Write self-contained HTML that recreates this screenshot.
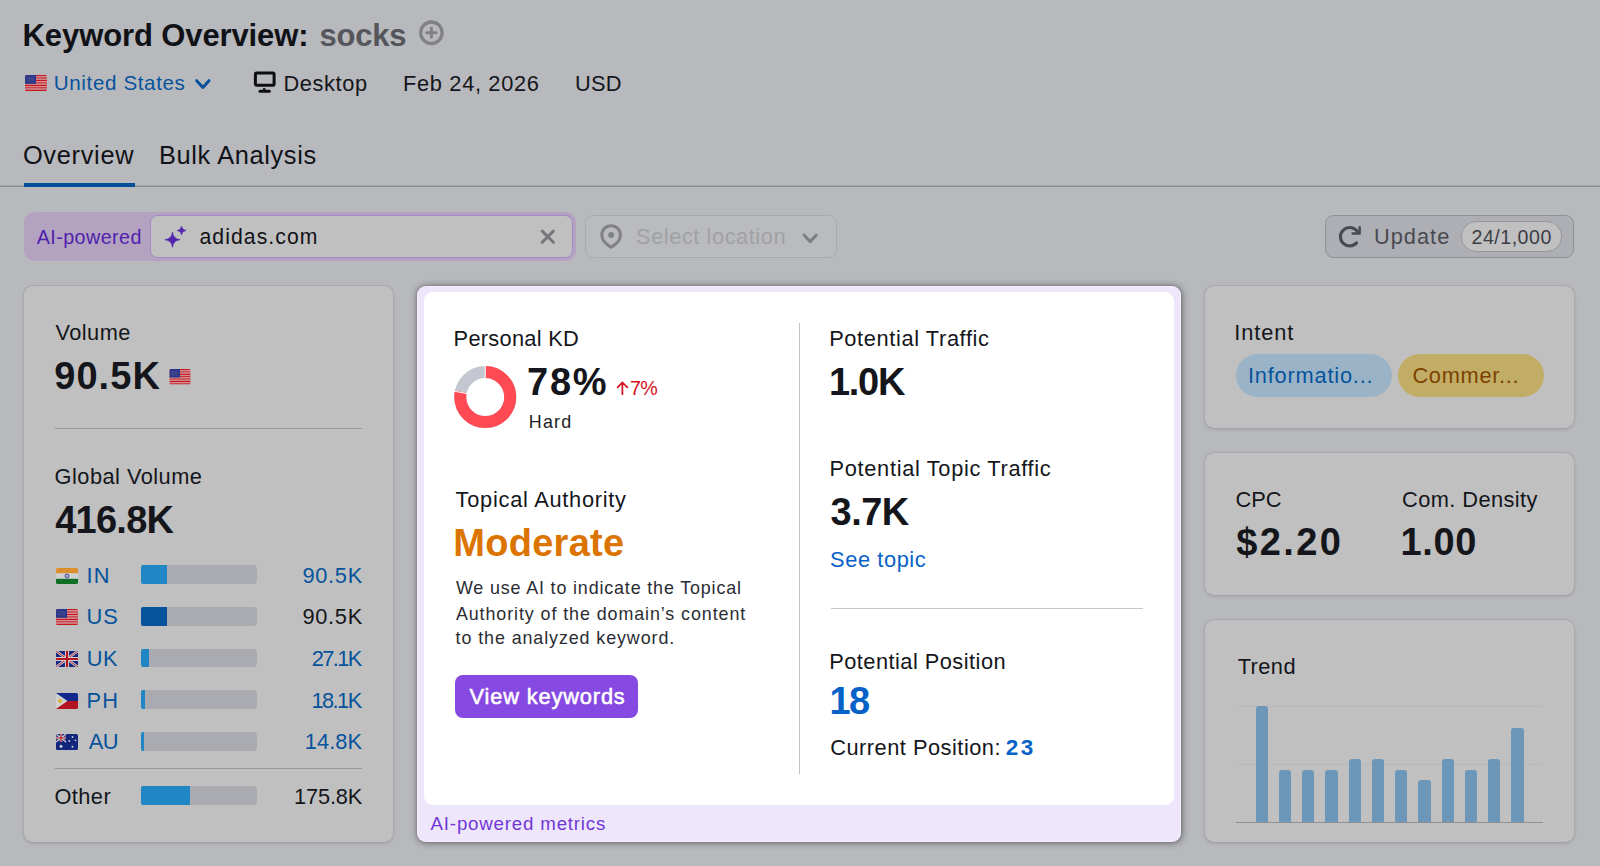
<!DOCTYPE html>
<html lang="en"><head><meta charset="utf-8"><title>Keyword Overview: socks</title>
<style>
html,body{margin:0;padding:0}
body{width:1600px;height:866px;position:relative;overflow:hidden;background:#b8b9bd;font-family:'Liberation Sans',sans-serif}
.t{position:absolute;white-space:pre;line-height:1;font-family:'Liberation Sans',sans-serif}
.a{position:absolute;box-sizing:border-box}
.card{position:absolute;box-sizing:border-box;background:#c0c0c0;border:1px solid #a9a9af;border-bottom-color:#a2a3a8;border-radius:10px;box-shadow:0 1px 3px rgba(0,0,0,.10)}
svg{position:absolute;overflow:visible}
</style></head><body>
<svg style="left:0px;top:0px" width="1" height="1" viewBox="0 0 1 1" ><circle cx="431.400" cy="32.750" r="10.750" fill="none" stroke="#808186" stroke-width="3.300"/><path d="M431.400 28.100v9.300M426.700 32.750h9.400" stroke="#808186" stroke-width="2.900" stroke-linecap="round" fill="none"/></svg>
<svg style="left:25px;top:75px" width="22" height="16" viewBox="0 0 22 16" ><clipPath id="c2575"><rect width="22" height="16" rx="1.6"/></clipPath><g clip-path="url(#c2575)"><rect x="0" y="0.000" width="22" height="1.231" fill="#c8161f"/><rect x="0" y="1.231" width="22" height="1.231" fill="#d88b8f"/><rect x="0" y="2.462" width="22" height="1.231" fill="#c8161f"/><rect x="0" y="3.692" width="22" height="1.231" fill="#d88b8f"/><rect x="0" y="4.923" width="22" height="1.231" fill="#c8161f"/><rect x="0" y="6.154" width="22" height="1.231" fill="#d88b8f"/><rect x="0" y="7.385" width="22" height="1.231" fill="#c8161f"/><rect x="0" y="8.615" width="22" height="1.231" fill="#d88b8f"/><rect x="0" y="9.846" width="22" height="1.231" fill="#c8161f"/><rect x="0" y="11.077" width="22" height="1.231" fill="#d88b8f"/><rect x="0" y="12.308" width="22" height="1.231" fill="#c8161f"/><rect x="0" y="13.538" width="22" height="1.231" fill="#d88b8f"/><rect x="0" y="14.769" width="22" height="1.231" fill="#c8161f"/><rect width="11" height="8.8" fill="#2a378c"/><rect x="1.6" y="2" width="7.6" height="4.8" fill="#3a4389"/></g></svg>
<svg style="left:0px;top:0px" width="1" height="1" viewBox="0 0 1 1" ><path d="M196.700 80.700 202.850 87.400 209 80.700" fill="none" stroke="#034f99" stroke-width="3" stroke-linecap="round" stroke-linejoin="round"/></svg>
<svg style="left:0px;top:0px" width="1" height="1" viewBox="0 0 1 1" ><rect x="255.400" y="72.900" width="18.700" height="12.300" rx="1.2" fill="none" stroke="#0d0e12" stroke-width="3"/><rect x="263" y="88.200" width="2.500" height="2.500" fill="#0d0e12"/><rect x="258.500" y="89.700" width="12.300" height="3" rx="1.500" fill="#0d0e12"/></svg>
<div class="a" style="left:0px;top:185px;width:1600px;height:1px;background:#a6a7ab"></div>
<div class="a" style="left:0px;top:186px;width:1600px;height:1px;background:#8e8f94"></div>
<div class="a" style="left:23.5px;top:182.5px;width:111.5px;height:4.5px;background:#034f99"></div>
<div class="a" style="left:23.5px;top:212px;width:552.1px;height:49.2px;background:#b3a3c0;border-radius:11px 10px 10px 11px"></div>
<div class="a" style="left:149.75px;top:215px;width:422.75px;height:43.2px;background:#c0c0c1;border:1.5px solid #a387c9;border-radius:7.5px"></div>
<svg style="left:0px;top:0px" width="1" height="1" viewBox="0 0 1 1" ><path d="M172.5 232.1 Q173.108 239.09199999999998 180.1 239.7 Q173.108 240.308 172.5 247.29999999999998 Q171.892 240.308 164.9 239.7 Q171.892 239.09199999999998 172.5 232.1ZM181.6 226.1 Q181.952 230.148 186.0 230.5 Q181.952 230.852 181.6 234.9 Q181.248 230.852 177.2 230.5 Q181.248 230.148 181.6 226.1Z" fill="#5525ae" stroke="#5525ae" stroke-width="0.7" stroke-linejoin="round"/></svg>
<svg style="left:0px;top:0px" width="1" height="1" viewBox="0 0 1 1" ><path d="M542.200 231.100 553.400 242.300M553.400 231.100 542.200 242.300" stroke="#76777c" stroke-width="3" stroke-linecap="round" fill="none"/></svg>
<div class="a" style="left:585px;top:215px;width:251.5px;height:43.2px;background:#babbbe;border:1px solid #a8a9ae;border-radius:8.5px"></div>
<svg style="left:0px;top:0px" width="1" height="1" viewBox="0 0 1 1" ><path d="M611.100 225.700c-5.200 0-9.300 4.100-9.300 9.200 0 6.200 7 11 9.300 12.300 2.300-1.300 9.300-6.100 9.300-12.300 0-5.100-4.100-9.200-9.300-9.200Z" fill="none" stroke="#808186" stroke-width="3" stroke-linejoin="round"/><circle cx="611.100" cy="235" r="3" fill="#808186"/></svg>
<svg style="left:0px;top:0px" width="1" height="1" viewBox="0 0 1 1" ><path d="M804.200 235.200 810.200 241.600 816.200 235.200" fill="none" stroke="#7d7e83" stroke-width="3" stroke-linecap="round" stroke-linejoin="round"/></svg>
<div class="a" style="left:1325px;top:215px;width:249px;height:43.2px;background:#aeafb4;border:1px solid #8f9095;border-radius:8.5px"></div>
<div class="a" style="left:1461px;top:221px;width:101px;height:31px;background:#c0c0c1;border:1px solid #96979c;border-radius:15px"></div>
<svg style="left:0px;top:0px" width="1" height="1" viewBox="0 0 1 1" ><path d="M1356.570 242.890A9.250 9.250 0 1 1 1356.570 230.510" fill="none" stroke="#494a51" stroke-width="3.1" stroke-linecap="round"/><path d="M1359.700 227.100V233.500H1352.600" fill="none" stroke="#494a51" stroke-width="2.4" stroke-linecap="round" stroke-linejoin="round"/><path d="M1359.700 233.500H1355.200L1359.700 229.200Z" fill="#494a51"/></svg>
<div class="card" style="left:23px;top:285px;width:371px;height:558px"></div>
<svg style="left:169.4px;top:369px" width="22" height="15.5" viewBox="0 0 22 16" ><clipPath id="c169369"><rect width="22" height="16" rx="1.6"/></clipPath><g clip-path="url(#c169369)"><rect x="0" y="0.000" width="22" height="1.231" fill="#c8161f"/><rect x="0" y="1.231" width="22" height="1.231" fill="#d88b8f"/><rect x="0" y="2.462" width="22" height="1.231" fill="#c8161f"/><rect x="0" y="3.692" width="22" height="1.231" fill="#d88b8f"/><rect x="0" y="4.923" width="22" height="1.231" fill="#c8161f"/><rect x="0" y="6.154" width="22" height="1.231" fill="#d88b8f"/><rect x="0" y="7.385" width="22" height="1.231" fill="#c8161f"/><rect x="0" y="8.615" width="22" height="1.231" fill="#d88b8f"/><rect x="0" y="9.846" width="22" height="1.231" fill="#c8161f"/><rect x="0" y="11.077" width="22" height="1.231" fill="#d88b8f"/><rect x="0" y="12.308" width="22" height="1.231" fill="#c8161f"/><rect x="0" y="13.538" width="22" height="1.231" fill="#d88b8f"/><rect x="0" y="14.769" width="22" height="1.231" fill="#c8161f"/><rect width="11" height="8.8" fill="#2a378c"/><rect x="1.6" y="2" width="7.6" height="4.8" fill="#3a4389"/></g></svg>
<div class="a" style="left:54.6px;top:428.2px;width:307.2px;height:1.1px;background:#97989e"></div>
<div class="a" style="left:54.8px;top:767.5px;width:306.9px;height:1.1px;background:#97989e"></div>
<svg style="left:55.9px;top:567.6px" width="22" height="16" viewBox="0 0 22 16" ><clipPath id="c55_567"><rect width="22" height="16" rx="1.6"/></clipPath><g clip-path="url(#c55_567)"><rect width="22" height="16" fill="#d0d0d2"/><rect width="22" height="5.2" fill="#dd8f2e"/><rect y="10.8" width="22" height="5.2" fill="#0f6f27"/><circle cx="11" cy="8" r="2" fill="none" stroke="#283a8c" stroke-width="0.9"/><circle cx="11" cy="8" r="0.6" fill="#283a8c"/></g></svg>
<div class="a" style="left:141px;top:565.2px;width:115.8px;height:18.9px;background:#aaabb1;border-radius:2px 4px 4px 2px"></div>
<div class="a" style="left:141px;top:565.2px;width:25.6px;height:18.9px;background:#2087c4;border-radius:2px 0 0 2px"></div>
<svg style="left:55.9px;top:609.25px" width="22" height="16" viewBox="0 0 22 16" ><clipPath id="c55_609"><rect width="22" height="16" rx="1.6"/></clipPath><g clip-path="url(#c55_609)"><rect x="0" y="0.000" width="22" height="1.231" fill="#c8161f"/><rect x="0" y="1.231" width="22" height="1.231" fill="#d88b8f"/><rect x="0" y="2.462" width="22" height="1.231" fill="#c8161f"/><rect x="0" y="3.692" width="22" height="1.231" fill="#d88b8f"/><rect x="0" y="4.923" width="22" height="1.231" fill="#c8161f"/><rect x="0" y="6.154" width="22" height="1.231" fill="#d88b8f"/><rect x="0" y="7.385" width="22" height="1.231" fill="#c8161f"/><rect x="0" y="8.615" width="22" height="1.231" fill="#d88b8f"/><rect x="0" y="9.846" width="22" height="1.231" fill="#c8161f"/><rect x="0" y="11.077" width="22" height="1.231" fill="#d88b8f"/><rect x="0" y="12.308" width="22" height="1.231" fill="#c8161f"/><rect x="0" y="13.538" width="22" height="1.231" fill="#d88b8f"/><rect x="0" y="14.769" width="22" height="1.231" fill="#c8161f"/><rect width="11" height="8.8" fill="#2a378c"/><rect x="1.6" y="2" width="7.6" height="4.8" fill="#3a4389"/></g></svg>
<div class="a" style="left:141px;top:606.85px;width:115.8px;height:18.9px;background:#aaabb1;border-radius:2px 4px 4px 2px"></div>
<div class="a" style="left:141px;top:606.85px;width:25.6px;height:18.9px;background:#05539b;border-radius:2px 0 0 2px"></div>
<svg style="left:55.9px;top:650.9px" width="22" height="16" viewBox="0 0 22 16" ><clipPath id="c55_650"><rect width="22" height="16" rx="1.6"/></clipPath><g clip-path="url(#c55_650)"><rect width="22" height="16" fill="#13277f"/><path d="M0 0 22 16M22 0 0 16" stroke="#d0d0d2" stroke-width="2.6"/><path d="M0 0 22 16M22 0 0 16" stroke="#b5151f" stroke-width="0.9"/><path d="M11 0v16M0 8h22" stroke="#d0d0d2" stroke-width="4.2"/><path d="M11 0v16M0 8h22" stroke="#b5151f" stroke-width="2.2"/></g></svg>
<div class="a" style="left:141px;top:648.5px;width:115.8px;height:18.9px;background:#aaabb1;border-radius:2px 4px 4px 2px"></div>
<div class="a" style="left:141px;top:648.5px;width:8px;height:18.9px;background:#2087c4;border-radius:2px 0 0 2px"></div>
<svg style="left:55.9px;top:692.55px" width="22" height="16" viewBox="0 0 22 16" ><clipPath id="c55_692"><rect width="22" height="16" rx="1.6"/></clipPath><g clip-path="url(#c55_692)"><rect width="22" height="8" fill="#11298c"/><rect y="8" width="22" height="8" fill="#b3141f"/><path d="M0 0 11.500 8 0 16Z" fill="#d0d0d2"/><circle cx="4" cy="8" r="2" fill="#d9b32f"/></g></svg>
<div class="a" style="left:141px;top:690.15px;width:115.8px;height:18.9px;background:#aaabb1;border-radius:2px 4px 4px 2px"></div>
<div class="a" style="left:141px;top:690.15px;width:4px;height:18.9px;background:#2087c4;border-radius:2px 0 0 2px"></div>
<svg style="left:55.9px;top:734.2px" width="22" height="16" viewBox="0 0 22 16" ><clipPath id="c55_734"><rect width="22" height="16" rx="1.6"/></clipPath><g clip-path="url(#c55_734)"><rect width="22" height="16" fill="#12267e"/><path d="M0 0 10 8M10 0 0 8" stroke="#d0d0d2" stroke-width="1.3"/><path d="M5 0v8M0 4h10" stroke="#d0d0d2" stroke-width="2.4"/><path d="M5 0v8M0 4h10" stroke="#b5151f" stroke-width="1.2"/><circle cx="5" cy="12.3" r="1.5" fill="#d0d0d2"/><circle cx="16.500" cy="3" r="0.9" fill="#d0d0d2"/><circle cx="13.300" cy="7" r="0.9" fill="#d0d0d2"/><circle cx="19.500" cy="6.300" r="0.9" fill="#d0d0d2"/><circle cx="16.500" cy="12.800" r="1" fill="#d0d0d2"/></g></svg>
<div class="a" style="left:141px;top:731.8px;width:115.8px;height:18.9px;background:#aaabb1;border-radius:2px 4px 4px 2px"></div>
<div class="a" style="left:141px;top:731.8px;width:3.2px;height:18.9px;background:#2087c4;border-radius:2px 0 0 2px"></div>
<div class="a" style="left:141px;top:786.3px;width:115.8px;height:18.9px;background:#aaabb1;border-radius:2px 4px 4px 2px"></div>
<div class="a" style="left:141px;top:786.3px;width:49.4px;height:18.9px;background:#2087c4;border-radius:2px 0 0 2px"></div>
<div class="a" style="left:417px;top:286px;width:764px;height:556px;background:#eee7fb;border-radius:9px;box-shadow:0 0 1.5px rgba(0,0,0,.30),.5px .5px 7px rgba(0,0,0,.44),inset 0 0 0 1px rgba(255,245,255,.55)"></div>
<div class="a" style="left:423.75px;top:292px;width:750.5px;height:512.6px;background:#fff;border-radius:9px"></div>
<svg style="left:0px;top:0px" width="1" height="1" viewBox="0 0 1 1" ><circle cx="485.25" cy="397.1" r="25" fill="none" stroke="#c4c7cf" stroke-width="12"/><circle cx="485.25" cy="397.1" r="25" fill="none" stroke="#ff4953" stroke-width="12" stroke-dasharray="122.52 157.08" transform="rotate(-90 485.25 397.1)"/><path d="M485.250 365.500V378.800M467.08 393.63L454.31 391.20" stroke="#fff" stroke-width="1" fill="none"/></svg>
<svg style="left:0px;top:0px" width="1" height="1" viewBox="0 0 1 1" role="img" aria-label="up"><path d="M622.400 394.900V382.600M617.100 387.800 622.400 382.400 627.800 387.800" fill="none" stroke="#d4101f" stroke-width="1.7"/></svg>
<div class="a" style="left:798.8px;top:323px;width:1.1px;height:450.6px;background:#c0c3cc"></div>
<div class="a" style="left:831.25px;top:607.5px;width:312.0px;height:1.1px;background:#c4c7cf"></div>
<div class="a" style="left:454.5px;top:675px;width:183.5px;height:43.3px;background:#8649e1;border-radius:8px"></div>
<div class="card" style="left:1204px;top:285px;width:371px;height:144px"></div>
<div class="card" style="left:1204px;top:452px;width:371px;height:144px"></div>
<div class="card" style="left:1204px;top:619px;width:371px;height:224px"></div>
<div class="a" style="left:1236.1px;top:354px;width:155.9px;height:42.7px;background:#9bb3c7;border-radius:22px"></div>
<div class="a" style="left:1398px;top:354px;width:145.7px;height:42.7px;background:#c1ad66;border-radius:22px"></div>
<div class="a" style="left:1235.8px;top:706px;width:307.4px;height:1px;background:#b6b7bb"></div>
<div class="a" style="left:1235.8px;top:764px;width:307.4px;height:1px;background:#b6b7bb"></div>
<div class="a" style="left:1255.6px;top:706px;width:12.4px;height:116px;background:#6d97b8;border-radius:3px 3px 0 0"></div>
<div class="a" style="left:1278.85px;top:769.6px;width:12.4px;height:52.4px;background:#6d97b8;border-radius:3px 3px 0 0"></div>
<div class="a" style="left:1302.1px;top:769.6px;width:12.4px;height:52.4px;background:#6d97b8;border-radius:3px 3px 0 0"></div>
<div class="a" style="left:1325.35px;top:769.6px;width:12.4px;height:52.4px;background:#6d97b8;border-radius:3px 3px 0 0"></div>
<div class="a" style="left:1348.6px;top:759.3px;width:12.4px;height:62.7px;background:#6d97b8;border-radius:3px 3px 0 0"></div>
<div class="a" style="left:1371.85px;top:759.3px;width:12.4px;height:62.7px;background:#6d97b8;border-radius:3px 3px 0 0"></div>
<div class="a" style="left:1395.1px;top:769.6px;width:12.4px;height:52.4px;background:#6d97b8;border-radius:3px 3px 0 0"></div>
<div class="a" style="left:1418.35px;top:780.3px;width:12.4px;height:41.7px;background:#6d97b8;border-radius:3px 3px 0 0"></div>
<div class="a" style="left:1441.6px;top:759.3px;width:12.4px;height:62.7px;background:#6d97b8;border-radius:3px 3px 0 0"></div>
<div class="a" style="left:1464.85px;top:769.6px;width:12.4px;height:52.4px;background:#6d97b8;border-radius:3px 3px 0 0"></div>
<div class="a" style="left:1488.1px;top:759.3px;width:12.4px;height:62.7px;background:#6d97b8;border-radius:3px 3px 0 0"></div>
<div class="a" style="left:1511.35px;top:727.6px;width:12.4px;height:94.4px;background:#6d97b8;border-radius:3px 3px 0 0"></div>
<div class="a" style="left:1235.8px;top:821.6px;width:307.4px;height:1.4px;background:#8f9096"></div>
<span class="t" style="left:22.6px;top:20px;font-size:31px;font-weight:700;letter-spacing:-0.11px;color:#101217">Keyword Overview:</span>
<span class="t" style="left:319.5px;top:20px;font-size:31px;font-weight:700;letter-spacing:-0.25px;color:#55565c">socks</span>
<span class="t" style="left:53.8px;top:73px;font-size:20.6px;letter-spacing:0.62px;color:#06539c">United States</span>
<span class="t" style="left:283.4px;top:73px;font-size:21.8px;letter-spacing:0.62px;color:#15161b">Desktop</span>
<span class="t" style="left:403.1px;top:73px;font-size:21.8px;letter-spacing:0.66px;color:#15161b">Feb 24, 2026</span>
<span class="t" style="left:575.0px;top:73px;font-size:21.8px;letter-spacing:0.25px;color:#15161b">USD</span>
<span class="t" style="left:22.9px;top:143px;font-size:25.4px;letter-spacing:0.69px;color:#101217">Overview</span>
<span class="t" style="left:158.9px;top:143px;font-size:25.4px;letter-spacing:0.64px;color:#101217">Bulk Analysis</span>
<span class="t" style="left:36.8px;top:228px;font-size:19.7px;letter-spacing:0.43px;color:#5022ad">AI-powered</span>
<span class="t" style="left:199.5px;top:226px;font-size:21.2px;letter-spacing:1.06px;color:#101217">adidas.com</span>
<span class="t" style="left:636.1px;top:226px;font-size:21.8px;letter-spacing:0.55px;color:#a0a1a6">Select location</span>
<span class="t" style="left:1374.0px;top:226px;font-size:21.8px;letter-spacing:1.0px;color:#494a51">Update</span>
<span class="t" style="left:1471.6px;top:228px;font-size:19.6px;letter-spacing:0.49px;color:#3d3e45">24/1,000</span>
<span class="t" style="left:55.4px;top:322px;font-size:21.8px;letter-spacing:0.46px;color:#14161b">Volume</span>
<span class="t" style="left:54.3px;top:357px;font-size:38px;font-weight:700;letter-spacing:1.03px;color:#14161b">90.5K</span>
<span class="t" style="left:54.6px;top:466px;font-size:21.8px;letter-spacing:0.46px;color:#14161b">Global Volume</span>
<span class="t" style="left:55.2px;top:501px;font-size:38px;font-weight:700;letter-spacing:-0.74px;color:#14161b">416.8K</span>
<span class="t" style="left:86.5px;top:565px;font-size:21.8px;letter-spacing:1.2px;color:#06539c">IN</span>
<span class="t" style="left:302.4px;top:565px;font-size:21.8px;letter-spacing:0.72px;color:#06539c">90.5K</span>
<span class="t" style="left:86.5px;top:606px;font-size:21.8px;letter-spacing:1.1px;color:#06539c">US</span>
<span class="t" style="left:302.4px;top:606px;font-size:21.8px;letter-spacing:0.72px;color:#14161b">90.5K</span>
<span class="t" style="left:86.7px;top:648px;font-size:21.8px;letter-spacing:0.6px;color:#06539c">UK</span>
<span class="t" style="left:311.7px;top:648px;font-size:21.8px;letter-spacing:-1.6px;color:#06539c">27.1K</span>
<span class="t" style="left:86.5px;top:690px;font-size:21.8px;letter-spacing:1.1px;color:#06539c">PH</span>
<span class="t" style="left:311.4px;top:690px;font-size:21.8px;letter-spacing:-1.53px;color:#06539c">18.1K</span>
<span class="t" style="left:88.7px;top:731px;font-size:21.8px;letter-spacing:-0.4px;color:#06539c">AU</span>
<span class="t" style="left:304.7px;top:731px;font-size:21.8px;letter-spacing:0.1px;color:#06539c">14.8K</span>
<span class="t" style="left:54.4px;top:786px;font-size:21.8px;letter-spacing:0.45px;color:#14161b">Other</span>
<span class="t" style="left:294.1px;top:786px;font-size:21.8px;letter-spacing:-0.18px;color:#14161b">175.8K</span>
<span class="t" style="left:453.6px;top:328px;font-size:21.8px;letter-spacing:0.28px;color:#14161b">Personal KD</span>
<span class="t" style="left:527.0px;top:363px;font-size:38px;font-weight:700;letter-spacing:1.75px;color:#14161b">78%</span>
<span class="t" style="left:630.0px;top:379px;font-size:19.7px;letter-spacing:-0.8px;color:#d4101f">7%</span>
<span class="t" style="left:528.8px;top:414px;font-size:17.9px;letter-spacing:1.17px;color:#1c1e25">Hard</span>
<span class="t" style="left:455.6px;top:489px;font-size:21.8px;letter-spacing:0.73px;color:#14161b">Topical Authority</span>
<span class="t" style="left:453.2px;top:524px;font-size:38px;font-weight:700;letter-spacing:0.29px;color:#db7400">Moderate</span>
<span class="t" style="left:455.9px;top:580px;font-size:17.9px;letter-spacing:0.85px;color:#2b2c33">We use AI to indicate the Topical</span>
<span class="t" style="left:455.9px;top:606px;font-size:17.9px;letter-spacing:0.91px;color:#2b2c33">Authority of the domain’s content</span>
<span class="t" style="left:455.6px;top:630px;font-size:17.9px;letter-spacing:0.9px;color:#2b2c33">to the analyzed keyword.</span>
<span class="t" style="left:469.6px;top:686px;font-size:21.8px;letter-spacing:0.85px;color:#ffffff;-webkit-text-stroke:.55px #fff">View keywords</span>
<span class="t" style="left:430.6px;top:815px;font-size:18.7px;letter-spacing:0.81px;color:#7236d6">AI-powered metrics</span>
<span class="t" style="left:829.2px;top:328px;font-size:21.8px;letter-spacing:0.62px;color:#14161b">Potential Traffic</span>
<span class="t" style="left:828.9px;top:363px;font-size:38px;font-weight:700;letter-spacing:-1.25px;color:#14161b">1.0K</span>
<span class="t" style="left:829.6px;top:458px;font-size:21.8px;letter-spacing:0.67px;color:#14161b">Potential Topic Traffic</span>
<span class="t" style="left:830.5px;top:493px;font-size:38px;font-weight:700;letter-spacing:-0.5px;color:#14161b">3.7K</span>
<span class="t" style="left:830.1px;top:549px;font-size:21.8px;letter-spacing:0.59px;color:#0762c8">See topic</span>
<span class="t" style="left:829.2px;top:651px;font-size:21.8px;letter-spacing:0.47px;color:#14161b">Potential Position</span>
<span class="t" style="left:829.4px;top:682px;font-size:38px;font-weight:700;letter-spacing:-1.6px;color:#0762c8">18</span>
<span class="t" style="left:830.2px;top:737px;font-size:21.8px;letter-spacing:0.5px;color:#14161b">Current Position:</span>
<span class="t" style="left:1005.8px;top:737px;font-size:22.5px;font-weight:700;letter-spacing:2.5px;color:#0762c8">23</span>
<span class="t" style="left:1234.3px;top:322px;font-size:21.8px;letter-spacing:0.88px;color:#14161b">Intent</span>
<span class="t" style="left:1248.0px;top:365px;font-size:21.8px;letter-spacing:0.79px;color:#06539c">Informatio...</span>
<span class="t" style="left:1412.4px;top:365px;font-size:21.8px;letter-spacing:0.72px;color:#7e4200">Commer...</span>
<span class="t" style="left:1235.5px;top:489px;font-size:21.8px;letter-spacing:-0.05px;color:#14161b">CPC</span>
<span class="t" style="left:1402.0px;top:489px;font-size:21.8px;letter-spacing:0.42px;color:#14161b">Com. Density</span>
<span class="t" style="left:1236.2px;top:523px;font-size:38px;font-weight:700;letter-spacing:2.38px;color:#14161b">$2.20</span>
<span class="t" style="left:1400.6px;top:523px;font-size:38px;font-weight:700;letter-spacing:0.6px;color:#14161b">1.00</span>
<span class="t" style="left:1237.7px;top:656px;font-size:21.8px;letter-spacing:0.43px;color:#14161b">Trend</span>
</body></html>
